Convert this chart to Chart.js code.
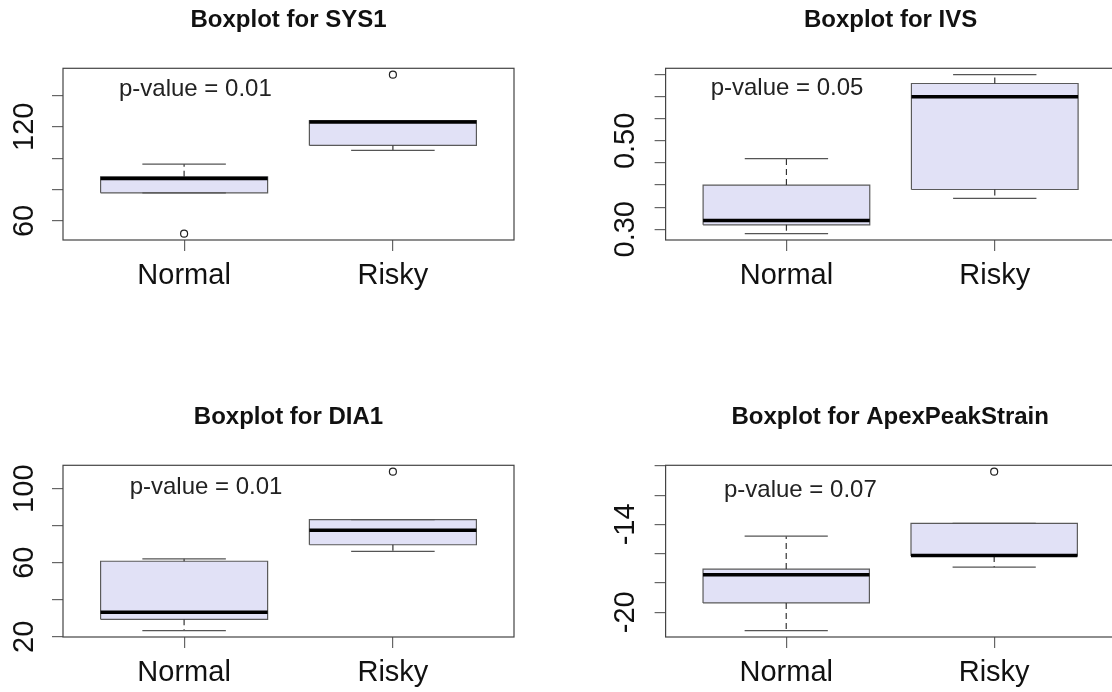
<!doctype html>
<html lang="en">

<head>
  <meta charset="utf-8">
  <title>Boxplots Normal vs Risky</title>
  <style>
    html, body { margin: 0; padding: 0; background: #fff; overflow: hidden; }
    body { width: 1112px; height: 692px; position: relative; }
    .panel { position: absolute; }
    .panel canvas { display: block; }
  </style>
</head>

<body>

  <div class="panel" style="left:0px;top:0px"><canvas id="sys1-chart" width="556" height="300"></canvas></div>
  <div class="panel" style="left:556px;top:0px"><canvas id="ivs-chart" width="564" height="300"></canvas></div>
  <div class="panel" style="left:0px;top:397px"><canvas id="dia1-chart" width="556" height="300"></canvas></div>
  <div class="panel" style="left:556px;top:397px"><canvas id="apex-chart" width="564" height="300"></canvas></div>

  <script src="https://cdn.jsdelivr.net/npm/chart.js"></script>

  <script>
    const groups = ['Normal', 'Risky'];

    // [lower whisker, Q1, median, Q3, upper whisker] for Normal, Risky
    const sys1Stats = [[77.9, 77.9, 87.1, 88.1, 96.2], [104.9, 108.1, 123.0, 124.0, 124.0]];
    const sys1Outliers = [[51.9], [153.2]];
    const sys1Ticks = [60, 80, 100, 120, 140];
    const sys1TickLabels = ['60', '', '', '120', ''];

    const ivsStats = [[0.29, 0.31, 0.32, 0.40, 0.46], [0.37, 0.39, 0.60, 0.63, 0.65]];
    const ivsOutliers = [[], []];
    const ivsTicks = [0.30, 0.35, 0.40, 0.45, 0.50, 0.55, 0.60, 0.65];
    const ivsTickLabels = ['0.30', '', '', '', '0.50', '', '', ''];

    const dia1Stats = [[23.3, 29.4, 33.2, 60.8, 62.1], [66.1, 69.7, 77.5, 83.3, 83.3]];
    const dia1Outliers = [[], [109.2]];
    const dia1Ticks = [20, 40, 60, 80, 100];
    const dia1TickLabels = ['20', '', '60', '', '100'];

    const apexStats = [[-21.25, -19.36, -17.44, -17.05, -14.8], [-16.92, -16.15, -16.12, -13.93, -13.93]];
    const apexOutliers = [[], [-10.4]];
    const apexTicks = [-20, -18, -16, -14, -12, -10];
    const apexTickLabels = ['-20', '', '', '-14', '', ''];

    const titles = ['Boxplot for SYS1', 'Boxplot for IVS', 'Boxplot for DIA1', 'Boxplot for ApexPeakStrain'];
    const pValues = ['p-value = 0.01', 'p-value = 0.05', 'p-value = 0.01', 'p-value = 0.07'];

    const FONT = '"Liberation Sans", Arial, Helvetica, sans-serif';
    const BOX_FILL = '#e1e1f6';
    const LINE = '#555';

    // plot frame like R's box()
    const framePlugin = {
      id: 'frame',
      afterDatasetsDraw(chart) {
        const { ctx, chartArea: a } = chart;
        ctx.save();
        ctx.strokeStyle = '#444';
        ctx.lineWidth = 1.2;
        ctx.strokeRect(a.left, a.top, a.width, a.height);
        ctx.restore();
      }
    };

    const pvaluePlugin = {
      id: 'pvalue',
      afterDatasetsDraw(chart, args, opts) {
        const ctx = chart.ctx;
        const x = chart.scales.x.getPixelForValue(opts.x);
        const y = chart.scales.y.getPixelForValue(opts.y);
        ctx.save();
        ctx.font = '24px ' + FONT;
        ctx.fillStyle = '#222';
        ctx.textAlign = 'center';
        ctx.textBaseline = 'middle';
        ctx.fillText(opts.text, x, y);
        ctx.restore();
      }
    };

    function seg(points, extra) {
      return Object.assign({
        type: 'scatter',
        showLine: true,
        data: points.map(p => ({ x: p[0], y: p[1] })),
        borderColor: LINE,
        borderWidth: 1.2,
        pointRadius: 0,
        fill: false
      }, extra);
    }

    function buildBoxplot(target, cfg) {
      const datasets = [];
      cfg.stats.forEach((s, i) => {
        const x = i + 1;
        const [lo, q1, med, q3, hi] = s;
        const b = 0.4, c = 0.2;
        datasets.push(seg([[x - b, q1], [x + b, q1], [x + b, q3], [x - b, q3], [x - b, q1]],
          { fill: 'shape', backgroundColor: BOX_FILL, borderColor: '#5a5a5a', order: 5 }));
        datasets.push(seg([[x, q3], [x, hi]], { borderDash: [6, 4], borderColor: '#333', order: 4 }));
        datasets.push(seg([[x, q1], [x, lo]], { borderDash: [6, 4], borderColor: '#333', order: 4 }));
        datasets.push(seg([[x - c, hi], [x + c, hi]], { order: 3 }));
        datasets.push(seg([[x - c, lo], [x + c, lo]], { order: 3 }));
        datasets.push(seg([[x - b, med], [x + b, med]], { borderColor: '#000', borderWidth: 3.5, order: 1 }));
      });
      const outs = [];
      cfg.outliers.forEach((o, i) => o.forEach(v => outs.push({ x: i + 1, y: v })));
      datasets.push({
        type: 'scatter',
        data: outs,
        pointStyle: 'circle',
        pointRadius: 3.5,
        pointBorderWidth: 1.2,
        pointBorderColor: '#222',
        pointBackgroundColor: '#fff',
        order: 0
      });

      // R style axis limits: data range plus 4%
      const all = cfg.stats.flat().concat(cfg.outliers.flat());
      const lo = Math.min(...all), hi = Math.max(...all);
      const ext = (hi - lo) * 0.04;

      new Chart(document.getElementById(target), {
        type: 'scatter',
        data: { datasets: datasets },
        options: {
          responsive: false,
          animation: false,
          events: [],
          devicePixelRatio: 1,
          layout: { padding: { left: 0, right: cfg.padRight, top: 0, bottom: 0 } },
          scales: {
            x: {
              type: 'linear',
              min: 0.42,
              max: 2.58,
              afterBuildTicks: axis => { axis.ticks = groups.map((g, i) => ({ value: i + 1 })); },
              afterFit: axis => { axis.height = 60; },
              border: { display: false },
              grid: { drawOnChartArea: false, drawTicks: true, tickLength: 11, tickColor: '#666', lineWidth: 1.2 },
              ticks: {
                autoSkip: false,
                maxRotation: 0,
                padding: 8,
                color: '#111',
                font: { size: 29, family: FONT },
                callback: (value) => groups[Math.round(value) - 1]
              }
            },
            y: {
              type: 'linear',
              min: lo - ext,
              max: hi + ext,
              afterBuildTicks: axis => { axis.ticks = cfg.ticks.map(v => ({ value: v })); },
              afterFit: axis => { axis.width = cfg.axisWidth; },
              border: { display: false },
              grid: { drawOnChartArea: false, drawTicks: true, tickLength: 11, tickColor: '#666', lineWidth: 1.2 },
              ticks: {
                autoSkip: false,
                minRotation: 90,
                maxRotation: 90,
                crossAlign: 'center',
                padding: cfg.labelPad,
                color: '#111',
                font: { size: 29, family: FONT },
                callback: (value, index) => cfg.tickLabels[index]
              }
            }
          },
          plugins: {
            legend: { display: false },
            tooltip: { enabled: false },
            title: {
              display: true,
              text: cfg.title,
              fullSize: false,
              color: '#111',
              font: { size: 24, weight: 'bold', family: FONT },
              padding: { top: 6.1, bottom: 33.4 }
            },
            pvalue: { text: cfg.pvalue, x: cfg.pAt[0], y: cfg.pAt[1] }
          }
        },
        plugins: [framePlugin, pvaluePlugin]
      });
    }

    buildBoxplot('sys1-chart', {
      stats: sys1Stats, outliers: sys1Outliers, ticks: sys1Ticks, tickLabels: sys1TickLabels,
      title: titles[0], pvalue: pValues[0], pAt: [1.054, 143.9],
      axisWidth: 63, padRight: 42, labelPad: 2.6
    });
    buildBoxplot('ivs-chart', {
      stats: ivsStats, outliers: ivsOutliers, ticks: ivsTicks, tickLabels: ivsTickLabels,
      title: titles[1], pvalue: pValues[1], pAt: [1.003, 0.618],
      axisWidth: 109.6, padRight: 4.4, labelPad: 0.5
    });
    buildBoxplot('dia1-chart', {
      stats: dia1Stats, outliers: dia1Outliers, ticks: dia1Ticks, tickLabels: dia1TickLabels,
      title: titles[2], pvalue: pValues[2], pAt: [1.105, 100.5],
      axisWidth: 63, padRight: 42, labelPad: 2.6
    });
    buildBoxplot('apex-chart', {
      stats: apexStats, outliers: apexOutliers, ticks: apexTicks, tickLabels: apexTickLabels,
      title: titles[3], pvalue: pValues[3], pAt: [1.068, -11.66],
      axisWidth: 109.6, padRight: 4.4, labelPad: 7.3
    });
  </script>

</body>

</html>
